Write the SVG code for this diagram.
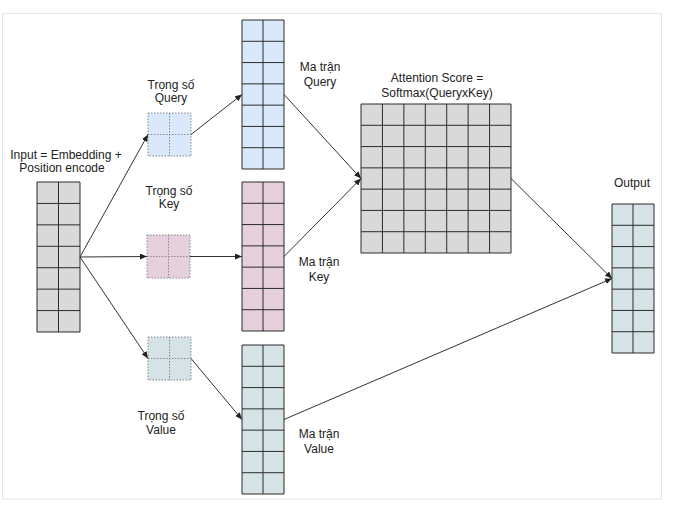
<svg xmlns="http://www.w3.org/2000/svg" width="690" height="515" viewBox="0 0 690 515">
<defs>
<marker id="arr" markerWidth="8" markerHeight="6" refX="7" refY="3" orient="auto" markerUnits="userSpaceOnUse">
<path d="M0,0 L7,3 L0,6 Z" fill="#222"/>
</marker>
<style>
text{font-family:"Liberation Sans",Arial,sans-serif;font-size:12px;fill:#222;text-anchor:middle}
.grid{stroke:#2b2b2b;stroke-width:1;fill:none}
.dot{stroke:#888;stroke-width:1;stroke-dasharray:1.5 1.5;fill:none}
.con{stroke:#333;stroke-width:1;fill:none;marker-end:url(#arr)}
.gray{fill:#d9d9d9}
.blue{fill:#dae8fc}
.pink{fill:#e6d0de}
.teal{fill:#d5e3e6}
</style>
</defs>
<rect x="2.5" y="13.5" width="659" height="485.5" fill="#fff" stroke="#e6e6e6" stroke-width="1"/>

<g id="input">
<rect class="gray" x="37" y="182" width="43" height="150"/>
<path class="grid" d="M37,182H80V332H37Z M58.5,182V332 M37,203.43H80 M37,224.86H80 M37,246.29H80 M37,267.71H80 M37,289.14H80 M37,310.57H80"/>
<text x="66" y="159">Input = Embedding +</text>
<text x="62" y="172">Position encode</text>
</g>

<g id="weight-query">
<rect class="blue" x="148" y="113" width="43" height="43"/>
<path class="dot" d="M148,113H191V156H148Z M169.5,113V156 M148,134.5H191"/>
<text x="171" y="89">Trọng số</text>
<text x="171" y="102">Query</text>
</g>

<g id="weight-key">
<rect class="pink" x="147" y="235" width="43" height="43"/>
<path class="dot" d="M147,235H190V278H147Z M168.5,235V278 M147,256.5H190"/>
<text x="169" y="195">Trọng số</text>
<text x="169" y="208">Key</text>
</g>

<g id="weight-value">
<rect class="teal" x="148" y="337" width="43" height="43"/>
<path class="dot" d="M148,337H191V380H148Z M169.5,337V380 M148,358.5H191"/>
<text x="161" y="420">Trọng số</text>
<text x="161" y="434">Value</text>
</g>

<g id="matrix-query">
<rect class="blue" x="242" y="20" width="42" height="149"/>
<path class="grid" d="M242,20H284V169H242Z M263,20V169 M242,41.29H284 M242,62.57H284 M242,83.86H284 M242,105.14H284 M242,126.43H284 M242,147.71H284"/>
<text x="320" y="71">Ma trận</text>
<text x="320" y="86">Query</text>
</g>

<g id="matrix-key">
<rect class="pink" x="242" y="182" width="42" height="149"/>
<path class="grid" d="M242,182H284V331H242Z M263,182V331 M242,203.29H284 M242,224.57H284 M242,245.86H284 M242,267.14H284 M242,288.43H284 M242,309.71H284"/>
<text x="319" y="266">Ma trận</text>
<text x="319" y="281">Key</text>
</g>

<g id="matrix-value">
<rect class="teal" x="242" y="345" width="42" height="149"/>
<path class="grid" d="M242,345H284V494H242Z M263,345V494 M242,366.29H284 M242,387.57H284 M242,408.86H284 M242,430.14H284 M242,451.43H284 M242,472.71H284"/>
<text x="319" y="438">Ma trận</text>
<text x="319" y="453">Value</text>
</g>

<g id="attention">
<rect class="gray" x="361" y="104" width="150" height="149"/>
<path class="grid" d="M361,104H511V253H361Z M382.43,104V253 M403.86,104V253 M425.29,104V253 M446.71,104V253 M468.14,104V253 M489.57,104V253 M361,125.29H511 M361,146.57H511 M361,167.86H511 M361,189.14H511 M361,210.43H511 M361,231.71H511"/>
<text x="437" y="82">Attention Score =</text>
<text x="437" y="97">Softmax(QueryxKey)</text>
</g>

<g id="output">
<rect class="teal" x="612" y="204" width="42" height="149"/>
<path class="grid" d="M612,204H654V353H612Z M633,204V353 M612,225.29H654 M612,246.57H654 M612,267.86H654 M612,289.14H654 M612,310.43H654 M612,331.71H654"/>
<text x="632" y="187">Output</text>
</g>

<g id="connectors">
<line class="con" x1="80" y1="257" x2="148" y2="134.5"/>
<line class="con" x1="80" y1="257" x2="147" y2="256.5"/>
<line class="con" x1="80" y1="257" x2="148" y2="358.5"/>
<line class="con" x1="191" y1="134.5" x2="242" y2="94.5"/>
<line class="con" x1="190" y1="256.5" x2="242" y2="256.5"/>
<line class="con" x1="191" y1="358.5" x2="242" y2="419.5"/>
<line class="con" x1="284" y1="94.5" x2="361" y2="178.5"/>
<line class="con" x1="284" y1="256.5" x2="361" y2="178.5"/>
<line class="con" x1="511" y1="178.5" x2="612" y2="278.5"/>
<line class="con" x1="284" y1="419.5" x2="612" y2="278.5"/>
</g>
</svg>
